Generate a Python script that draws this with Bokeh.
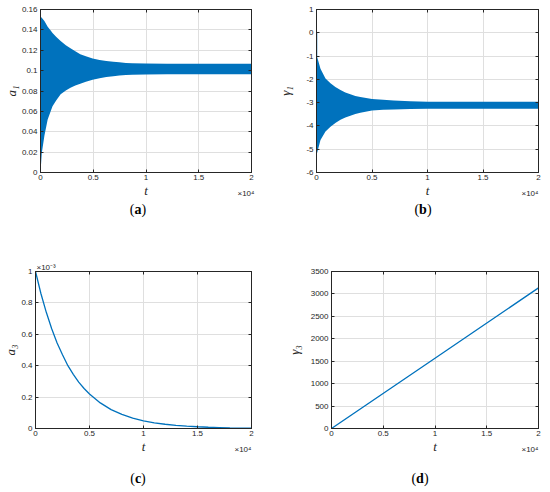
from bokeh.plotting import figure
from bokeh.layouts import row, column
from bokeh.models import Range1d, FixedTicker, CustomJSTickFormatter, LinearAxis, Title, Div
from bokeh.embed import file_html
from bokeh.resources import INLINE

BLUE = "#0072BD"
INK = "#262626"
GRID = "#dfdfdf"

# ---------------- data ----------------
t_ticks = [0, 5000, 10000, 15000, 20000]

# (a) a1: envelope of the dense oscillation band
t_a = [0, 120, 370, 680, 1000, 1140, 1500, 1910, 2400, 2840, 3300, 3770, 4300,
       4940, 5600, 6240, 6900, 7470, 8100, 8700, 9940, 12000, 15000, 20000]
a1_upper = [0.153, 0.152, 0.1488, 0.143, 0.139, 0.137, 0.133, 0.129, 0.125, 0.122,
            0.119, 0.116, 0.114, 0.112, 0.1105, 0.1095, 0.1087, 0.1081, 0.1076,
            0.1073, 0.1070, 0.1068, 0.1068, 0.1068]
a1_lower = [0.0, 0.019, 0.036, 0.052, 0.061, 0.065, 0.071, 0.0767, 0.0805, 0.0833,
            0.0855, 0.0872, 0.089, 0.091, 0.0925, 0.0937, 0.0945, 0.0952, 0.0957,
            0.096, 0.0963, 0.0965, 0.0965, 0.0965]
a1_ticks = [0, 0.02, 0.04, 0.06, 0.08, 0.1, 0.12, 0.14, 0.16]

# (b) gamma1: envelope of the dense oscillation band, plus the initial drop at t=0
t_b = [0, 60, 360, 810, 1260, 1700, 2160, 2600, 3050, 3500, 3950, 5000, 6000,
       6950, 8440, 10000, 12000, 15000, 20000]
g1_upper = [-1.0, -1.04, -1.54, -1.96, -2.17, -2.33, -2.46, -2.56, -2.64, -2.71,
            -2.76, -2.84, -2.88, -2.91, -2.94, -2.96, -2.96, -2.96, -2.96]
g1_lower = [-5.2, -5.15, -4.6, -4.24, -4.03, -3.87, -3.74, -3.64, -3.56, -3.49,
            -3.43, -3.34, -3.30, -3.29, -3.27, -3.26, -3.26, -3.26, -3.26]
t_b_start = [0, 0]
g1_start = [0.0, -1.0]
g1_ticks = [-6, -5, -4, -3, -2, -1, 0, 1]

# (c) a3 (in units of 1e-3)
t_c = [0, 500, 1000, 1500, 2000, 2500, 3000, 3500, 4000, 4500, 5000, 6000, 7000,
       8000, 9000, 10000, 11000, 12000, 13000, 14000, 15000, 16000, 17000, 18000,
       19000, 20000]
a3_e3 = [1.0, 0.86, 0.74, 0.635, 0.545, 0.47, 0.40, 0.345, 0.295, 0.255, 0.22,
         0.163, 0.12, 0.09, 0.066, 0.049, 0.036, 0.027, 0.02, 0.015, 0.011, 0.008,
         0.006, 0.004, 0.003, 0.002]
a3_ticks = [0, 0.2, 0.4, 0.6, 0.8, 1]

# (d) gamma3
t_d = [0, 10000, 20000]
g3 = [0, 1567, 3135]
g3_ticks = [0, 500, 1000, 1500, 2000, 2500, 3000, 3500]


def make_panel(w, h, bl, br, bt, bb, yr, yticks, ylabel, ylab_standoff, xoff):
    p = figure(width=w, height=h, x_range=Range1d(0, 20000), y_range=Range1d(*yr),
               output_backend="svg", toolbar_location=None,
               min_border_left=bl, min_border_right=br,
               min_border_top=bt, min_border_bottom=bb,
               background_fill_color="white", border_fill_color="white",
               outline_line_color=INK, outline_line_width=1)
    p.add_layout(LinearAxis(), "right")
    p.add_layout(LinearAxis(), "above")
    for ax in list(p.xaxis) + list(p.yaxis):
        ax.major_tick_in = 3
        ax.major_tick_out = 0
        ax.minor_tick_in = 0
        ax.minor_tick_out = 0
        ax.major_tick_line_color = INK
        ax.axis_line_color = INK
        ax.major_label_text_font = "Liberation Sans"
        ax.major_label_text_font_size = "8px"
        ax.major_label_text_color = INK
        ax.major_label_standoff = 2
    for ax in p.xaxis:
        ax.ticker = FixedTicker(ticks=t_ticks)
    for ax in p.yaxis:
        ax.ticker = FixedTicker(ticks=yticks)
    p.below[0].formatter = CustomJSTickFormatter(code="return String(tick / 10000);")
    p.left[0].formatter = CustomJSTickFormatter(code="return String(tick);")
    p.left[0].major_label_standoff = 3
    for ax in (p.above[-1], p.right[0]):
        ax.formatter = CustomJSTickFormatter(code="return '';")
        ax.major_label_text_font_size = "0px"
        ax.major_label_standoff = 0
    xa = p.below[0]
    xa.axis_label = "t"
    xa.axis_label_standoff = 0
    xa.axis_label_text_font_size = "13px"
    ya = p.left[0]
    ya.axis_label = ylabel
    ya.axis_label_standoff = ylab_standoff
    ya.axis_label_text_font_size = "13px"
    for ax in (xa, ya):
        ax.axis_label_text_font = "Liberation Serif"
        ax.axis_label_text_font_style = "italic"
        ax.axis_label_text_color = INK
    p.add_layout(Title(text="×10⁴", align="right", vertical_align="top",
                       standoff=-24, offset=xoff, text_font="Liberation Sans",
                       text_font_size="8px", text_font_style="normal",
                       text_color=INK), "below")
    p.xgrid.ticker = FixedTicker(ticks=t_ticks)
    p.ygrid.ticker = FixedTicker(ticks=yticks)
    p.grid.grid_line_color = GRID
    p.grid.grid_line_width = 1
    return p


def caption(letter, width, height, pad_top, margin_left):
    html = ('<div style="width:100px;margin-left:%dpx;padding-top:%dpx;'
            'text-align:center;line-height:20px;font-size:14px;'
            'font-family:\'Liberation Serif\',serif;color:#000;">(<b>%s</b>)</div>'
            % (margin_left, pad_top, letter))
    return Div(text=html, width=width, height=height, margin=0)


# ---- row 1 ----
pa = make_panel(262, 200, 36, 11, 9, 28, (0, 0.16), a1_ticks, "a₁", 0, -3)
pa.varea(x=t_a, y1=a1_lower, y2=a1_upper, fill_color=BLUE)

pb = make_panel(286, 200, 54, 10, 9, 28, (-6, 1), g1_ticks, "γ₁", 10, 0)
pb.varea(x=t_b, y1=g1_lower, y2=g1_upper, fill_color=BLUE)
pb.line(t_b_start, g1_start, line_color=BLUE, line_width=1.5)

# ---- row 2 ----
pc = make_panel(276, 236, 31, 25, 51, 28, (0, 1), a3_ticks, "a₃", 0, 0)
pc.line(t_c, a3_e3, line_color=BLUE, line_width=1.3)
pc.add_layout(Title(text="×10⁻³", align="left", vertical_align="bottom",
                    standoff=0, offset=1, text_font="Liberation Sans",
                    text_font_size="8px", text_font_style="normal",
                    text_color=INK), "above")

pd = make_panel(272, 236, 55, 10, 51, 28, (0, 3500), g3_ticks, "γ₃", 6, 0)
pd.line(t_d, g3, line_color=BLUE, line_width=1.3)

cap_a = caption("a", 262, 20, 0, 88)
cap_b = caption("b", 286, 20, 0, 111)
cap_c = caption("c", 276, 34, 13, 88)
cap_d = caption("d", 272, 34, 13, 94)

layout = column(row(pa, pb), row(cap_a, cap_b), row(pc, pd), row(cap_c, cap_d))
open("out.html", "w").write(file_html(layout, INLINE))
